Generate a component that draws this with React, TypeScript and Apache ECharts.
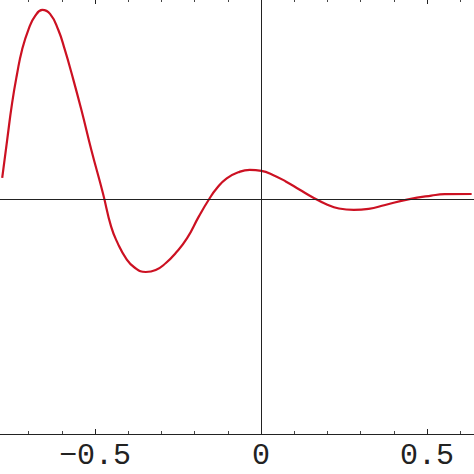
import { useEffect, useRef } from "react";
import * as echarts from "echarts";

// curve (x in plot units, y normalised so y=0 is the axis)
const xs = [
    -0.7795, -0.7646, -0.7497, -0.7348, -0.7198, -0.6999, -0.6802, -0.6587, -0.6354, -0.6104,
    -0.5907, -0.5707, -0.5409, -0.511, -0.4761, -0.4514, -0.4314, -0.4066, -0.3819,
    -0.347, -0.3171, -0.2873, -0.2575, -0.2226, -0.1879, -0.156, -0.1331, -0.1032, -0.0686,
    -0.0337, 0.0012, 0.0358, 0.0758, 0.1155, 0.1551, 0.1951, 0.2348, 0.2795, 0.3243,
    0.3741, 0.4436, 0.5131, 0.5531, 0.6345,
];
const ys = [
    0.106, 0.296, 0.482, 0.628, 0.749, 0.854, 0.92, 0.95, 0.93, 0.849,
    0.749, 0.633, 0.447, 0.246, 0.029, -0.139, -0.223, -0.298, -0.343,
    -0.367, -0.357, -0.323, -0.273, -0.197, -0.09, 0, 0.054, 0.104, 0.134,
    0.146, 0.141, 0.121, 0.087, 0.048, 0.009, -0.025, -0.048, -0.055, -0.05,
    -0.03, -0.002, 0.017, 0.024, 0.025,
];
const tickLabels: Record<string, string> = { "-0.5": "\u22120.5", "0": "0", "0.5": "0.5" };

const X_MIN = -1;
const X_MAX = 1;
const Y_MIN = -1.181;
const Y_MAX = 1.005;

// the frame runs past the picture on the left, right and top, so the chart is
// drawn larger than the page and cropped
const OFF_LEFT = 73.9;
const OFF_TOP = 1;
const CHART_W = 670.4;
const CHART_H = 475;

export default function App() {
    const ref = useRef<HTMLDivElement>(null);

    useEffect(() => {
        document.body.style.margin = "0";
        if (!ref.current) return;
        const chart = echarts.init(ref.current, undefined, { renderer: "svg" });

        const frameAxis = (position: "top" | "bottom", labels: boolean) => ({
            type: "value",
            position,
            min: X_MIN,
            max: X_MAX,
            interval: 0.5,
            axisLine: { show: true, onZero: false, lineStyle: { color: "#222", width: 1 } },
            axisTick: { show: true, inside: true, length: 5, lineStyle: { color: "#222", width: 1 } },
            minorTick: { show: true, splitNumber: 5, length: 3, lineStyle: { color: "#444", width: 1 } },
            splitLine: { show: false },
            axisLabel: {
                show: labels,
                margin: 7,
                color: "#222",
                fontFamily: "Liberation Mono",
                fontSize: 30,
                formatter: (v: number) => tickLabels[String(Math.round(v * 10) / 10)] ?? "",
            },
        });

        chart.setOption({
            animation: false,
            backgroundColor: "#fff",
            grid: { left: 0, right: 0, top: 0, bottom: 40, containLabel: false },
            xAxis: [frameAxis("bottom", true), frameAxis("top", false)],
            yAxis: { type: "value", min: Y_MIN, max: Y_MAX, show: false },
            series: [{
                type: "line",
                smooth: 0.5,
                showSymbol: false,
                clip: true,
                data: xs.map((x, i) => [x, ys[i]]),
                lineStyle: { color: "#cc1122", width: 2.2 },
                markLine: {
                    silent: true,
                    symbol: "none",
                    label: { show: false },
                    lineStyle: { color: "#222", width: 1, type: "solid" },
                    data: [{ xAxis: 0 }, { yAxis: 0 }],
                },
            }],
        });

        return () => chart.dispose();
    }, []);

    return (
        <div style={{ position: "relative", width: 474, height: 474, overflow: "hidden", background: "#fff" }}>
            <div
                ref={ref}
                style={{ position: "absolute", left: -OFF_LEFT, top: -OFF_TOP, width: CHART_W, height: CHART_H }}
            />
        </div>
    );
}
